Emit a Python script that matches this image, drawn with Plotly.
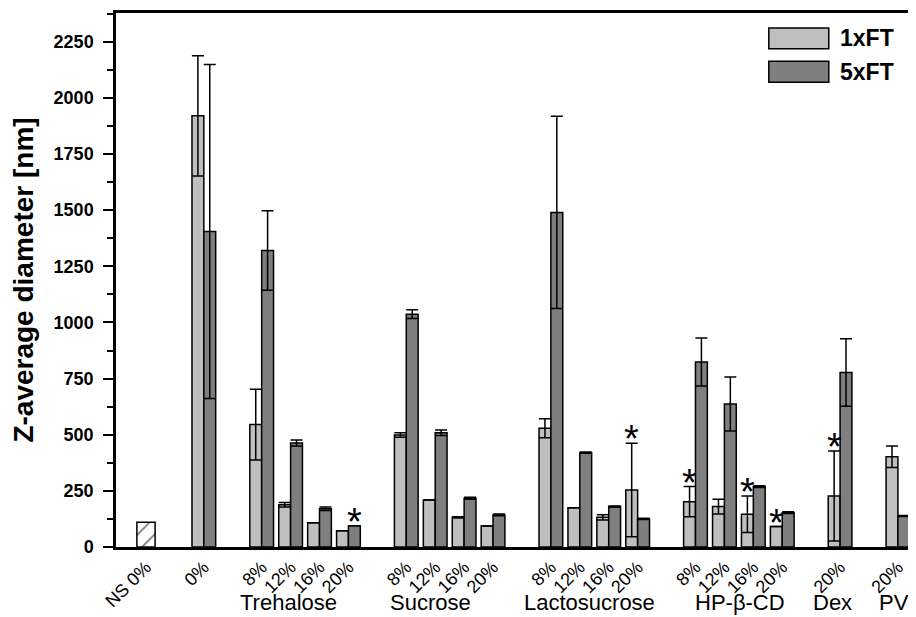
import plotly.graph_objects as go

# ---------------- data ----------------
categories = ["NS 0%", "0%",
              "8%", "12%", "16%", "20%",
              "8%", "12%", "16%", "20%",
              "8%", "12%", "16%", "20%",
              "8%", "12%", "16%", "20%",
              "20%", "20%"]
positions = [0, 2, 4, 5, 6, 7, 9, 10, 11, 12, 14, 15, 16, 17, 19, 20, 21, 22, 24, 26]

ns_value = [110]

ft1 = [None, 1920, 545, 188, 108, 72, 499, 209, 132, 94,
       529, 175, 132, 254, 202, 180, 146, 91, 227, 402]
ft1_err = [None, 268, 158, 10, None, None, 10, None, 3, None,
           42, None, 12, 208, 67, 33, 81, None, 200, 48]
ft5 = [None, 1405, 1320, 463, 170, 95, 1037, 509, 217, 143,
       1490, 420, 180, 125, 824, 637, 269, 153, 777, 138]
ft5_err = [None, 744, 177, 13, 8, None, 20, 12, 4, 4,
           428, 3, 3, 3, 107, 120, 4, 4, 150, 2]

ast1 = [13, 14, 16, 17, 18]   # indices with significance asterisk (1xFT)
ast5 = [5]                    # indices with significance asterisk (5xFT)

groups = ["Trehalose", "Sucrose", "Lactosucrose", "HP-β-CD", "Dex", "PVP"]
group_label_x = [4.93, 9.85, 15.32, 20.54, 23.75, 26.1]

series_names = ["1xFT", "5xFT"]
col1 = "#bfbfbf"
col5 = "#7f7f7f"

BW = 0.41
fig = go.Figure()

fig.add_trace(go.Bar(
    x=[positions[0]], y=ns_value, width=0.63, offset=-0.315,
    marker=dict(color="white", line=dict(color="black", width=1.5),
                pattern=dict(shape="/", fgcolor="black", bgcolor="white",
                             size=12, solidity=0.15)),
    showlegend=False, name="NS"))

fig.add_trace(go.Bar(
    x=positions, y=ft1, width=BW, offset=-BW, name=series_names[0],
    marker=dict(color=col1, line=dict(color="black", width=1.5)),
    error_y=dict(type="data", array=ft1_err, visible=True, color="black",
                 thickness=1.5, width=6),
    showlegend=False))

fig.add_trace(go.Bar(
    x=positions, y=ft5, width=BW, offset=0, name=series_names[1],
    marker=dict(color=col5, line=dict(color="black", width=1.5)),
    error_y=dict(type="data", array=ft5_err, visible=True, color="black",
                 thickness=1.5, width=6),
    showlegend=False))

# asterisks (significance marks) above the error bars
ast_pts = [(positions[i] - BW / 2, ft1[i] + (ft1_err[i] or 0)) for i in ast1] + \
          [(positions[i] + BW / 2, ft5[i] + (ft5_err[i] or 0)) for i in ast5]
for ax_, ay_ in ast_pts:
    fig.add_annotation(x=ax_, y=ay_, xref="x", yref="y", text="*", showarrow=False,
                       xanchor="center", yanchor="middle", yshift=4,
                       font=dict(family="Arial", size=38, color="black"))

# group labels
for g, gx in zip(groups, group_label_x):
    fig.add_annotation(x=gx, xref="x", y=-0.104, yref="paper", text=g,
                       showarrow=False, xanchor="center", yanchor="middle",
                       font=dict(family="Arial", size=22, color="black"))

# manual legend
for k, (nm, c) in enumerate(zip(series_names, [col1, col5])):
    y1 = 0.972 - k * 0.0625
    y0 = y1 - 0.039
    fig.add_shape(type="rect", xref="paper", yref="paper",
                  x0=0.816, x1=0.891, y0=y0, y1=y1,
                  fillcolor=c, line=dict(color="black", width=1.5))
    fig.add_annotation(x=0.9025, y=(y0 + y1) / 2, xref="paper", yref="paper",
                       text=nm, showarrow=False, xanchor="left", yanchor="middle",
                       font=dict(family="Arial", size=23, color="black", weight="bold"))

# page body has an 8px margin: figure is 908x609 so it fits the 916x617 window
fig.update_layout(
    width=908, height=609,
    margin=dict(l=108, r=0, t=5, b=70),
    plot_bgcolor="white", paper_bgcolor="white",
    barmode="overlay", showlegend=False,
    font=dict(family="Arial", color="black"),
)
fig.update_xaxes(
    range=[-1.037, 26.625], tickmode="array", tickvals=positions, ticktext=categories,
    tickangle=-45, tickfont=dict(family="Arial", size=18, color="black"),
    showline=True, linecolor="black", linewidth=2.5, mirror=True,
    ticks="", showgrid=False, zeroline=False, automargin=False)
fig.update_yaxes(
    range=[0, 2378], tickmode="array", tickvals=list(range(0, 2251, 250)),
    ticks="outside", ticklen=10, tickwidth=2, tickcolor="black",
    minor=dict(ticks="outside", ticklen=6, tickwidth=1.5, tickcolor="black", dtick=125, tick0=0, showgrid=False),
    tickfont=dict(family="Arial", size=18, color="black", weight="bold"),
    ticklabelstandoff=6,
    showline=True, linecolor="black", linewidth=2.5, mirror=False,
    showgrid=False, zeroline=False, automargin=False,
    title=dict(text="Z-average diameter [nm]", standoff=18,
               font=dict(family="Arial", size=28, color="black", weight="bold")))

fig.write_html("out.html")
